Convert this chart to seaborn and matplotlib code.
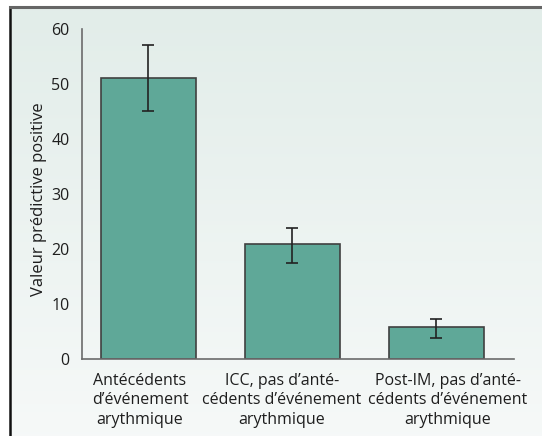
import numpy as np
import pandas as pd
import matplotlib.pyplot as plt
import seaborn as sns

sns.set_theme(style="white")
plt.rcParams['font.family'] = ['Open Sans', 'DejaVu Sans']

# Data
categories = [
    "Antécédents\nd’événement\narythmique",
    "ICC, pas d’anté-\ncédents d’événement\narythmique",
    "Post-IM, pas d’anté-\ncédents d’événement\narythmique",
]
values = [51, 21, 5.8]
err_low = [45, 17.4, 3.8]
err_high = [57, 23.8, 7.3]
y_ticks = [0, 10, 20, 30, 40, 50, 60]

BAR_COLOR = "#5fa898"
EDGE = "#404040"
SPINE = "#6b6b6b"
TEXT = "#1e1e1e"

df = pd.DataFrame({"cat": categories, "val": values})

fig = plt.figure(figsize=(5.42, 4.36), dpi=100)

# background gradient panel with frame lines
bg = fig.add_axes([10 / 542, 0, 1 - 10 / 542, 1 - 7 / 436])
grad = np.linspace(0, 1, 256).reshape(-1, 1)
top = np.array([0.886, 0.929, 0.914])
bottom = np.array([0.965, 0.976, 0.973])
img = top + (bottom - top) * grad[:, :, None]
bg.imshow(img, aspect="auto", extent=[0, 1, 0, 1], origin="upper")
bg.set_xlim(0, 1)
bg.set_ylim(0, 1)
bg.set_xticks([])
bg.set_yticks([])
for s in ["right", "bottom"]:
    bg.spines[s].set_visible(False)
bg.spines["left"].set_color("#111111")
bg.spines["left"].set_linewidth(1.8)
bg.spines["top"].set_color("#666666")
bg.spines["top"].set_linewidth(2.2)
bg.set_zorder(0)

ax = fig.add_axes([82 / 542, 1 - 359 / 436, (514 - 82) / 542, 330 / 436])
ax.patch.set_alpha(0)
ax.set_zorder(1)

sns.barplot(data=df, x="cat", y="val", color=BAR_COLOR, width=0.66,
            saturation=1, edgecolor=EDGE, linewidth=1.2, errorbar=None, ax=ax)

shift = -0.04
x = np.arange(len(values)) + shift
for p in ax.patches:
    p.set_x(p.get_x() + shift)
yerr = [np.array(values) - np.array(err_low), np.array(err_high) - np.array(values)]
ax.errorbar(x, values, yerr=yerr, fmt="none", ecolor="#222222",
            elinewidth=1.2, capsize=4, capthick=1.2)

ax.set_xlim(-0.5, 2.5)
ax.set_ylim(0, 60)
ax.set_yticks(y_ticks)
# label centres sit a little off the bar centres in the original
ax.set_xticks([-0.097, 0.889, 2.04])
ax.set_xticklabels(categories, fontsize=11.5, color=TEXT, linespacing=1.3)
ax.set_xticks([-0.5, 0.44, 1.45, 2.5], minor=True)
ax.tick_params(axis="x", which="major", length=0, pad=10)
ax.tick_params(axis="x", which="minor", length=7, width=1.2, color=SPINE, direction="out")
ax.tick_params(axis="y", length=7, width=1.2, color=SPINE, direction="out",
               labelsize=11.5, labelcolor=TEXT, pad=2)
ax.set_xlabel("")
ax.set_ylabel("Valeur prédictive positive", fontsize=12, color=TEXT, va="center")
ax.yaxis.set_label_coords(-0.099, 0.485)
for s in ["top", "right"]:
    ax.spines[s].set_visible(False)
for s in ["left", "bottom"]:
    ax.spines[s].set_color(SPINE)
    ax.spines[s].set_linewidth(1.2)

fig.savefig("out.png", dpi=100)
